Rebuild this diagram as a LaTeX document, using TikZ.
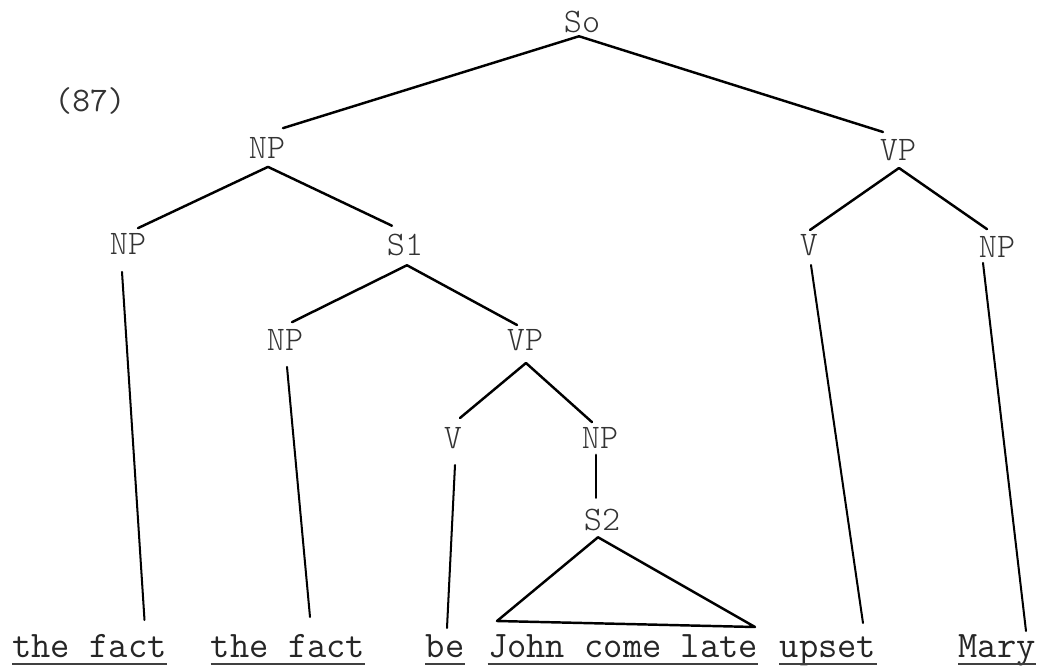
\documentclass[tikz,border=0pt]{standalone}
\usetikzlibrary{positioning}
\tikzset{
  cat/.style={inner sep=0pt,font=\ttfamily\fontseries{l}\fontsize{19.6}{20}\selectfont,text=black!80},
  word/.style={inner sep=0pt,anchor=base,font=\ttfamily\fontsize{21.3}{22}\selectfont,text=black!85},
  branch/.style={line width=1.4pt,line cap=round},
  leaf/.style={line width=1.15pt,line cap=round},
  uline/.style={line width=1pt,draw=black!75}
}
\begin{document}
\begin{tikzpicture}[x=0.02cm,y=-0.02cm]
  \useasboundingbox (0,0) rectangle (1042,666);
  % example number
  \node[cat,font=\ttfamily\fontsize{19.6}{20}\selectfont] (num) at (90,101) {(87)};
  % categories
  \node[cat] (So)  at (582,22)  {So};
  \node[cat] (NPa) at (267,148) {NP};
  \node[cat] (VPa) at (898,150) {VP};
  \node[cat] (NPb) at (128,244) {NP};
  \node[cat] (S1)  at (405,245) {S1};
  \node[cat] (Va)  at (809,245) {V};
  \node[cat] (NPc) at (997,247) {NP};
  \node[cat] (NPd) at (285,340) {NP};
  \node[cat] (VPb) at (525,340) {VP};
  \node[cat] (Vb)  at (453,438) {V};
  \node[cat] (NPe) at (600,438) {NP};
  \node[cat] (S2)  at (602,520) {S2};
  % terminals
  \node[word] (w1) at (89.5,657) {the fact};
  \node[word] (w2) at (288,657)  {the fact};
  \node[word] (w3) at (445,657)  {be};
  \node[word] (w4) at (623,657)  {John come late};
  \node[word] (w5) at (828,657)  {upset};
  \node[word] (w6) at (997,657)  {Mary};
  % branches (hand drawn, so the ends are a bit off centre)
  \foreach \p/\c/\ax/\ay/\bx/\by in {So/NPa/-3/3/16/-9, So/VPa/-3/3/-15/-7,
      NPa/NPb/1/8/10/-5, NPa/S1/1/8/-13/-8, VPa/Va/1/7/1/-4, VPa/NPc/1/7/-10/-7,
      S1/NPd/2/9/7/-7, S1/VPb/2/9/-8/-4, VPb/Vb/1/12/7/-9, VPb/NPe/1/12/-8/-5,
      NPe/S2/-4/6/-6/-11}
    \draw[branch] ([shift={(\ax,\ay)}]\p.south) -- ([shift={(\bx,\by)}]\c.north);
  % lines down to the words
  \foreach \p/\w/\ax/\ay/\bx/\by in {NPb/w1/-6/17/55/-37, NPd/w2/2/16/22/-40,
      Vb/w3/2/16/2/-29, Va/w5/2/9/35/-34, NPc/w6/-14/5/29/-26}
    \draw[leaf] ([shift={(\ax,\ay)}]\p.south) -- ([shift={(\bx,\by)}]\w.base);
  % triangle over S2
  \draw[branch,line join=round] ([shift={(-4,6)}]S2.south) -- ([shift={(-126,-36)}]w4.base)
    -- ([shift={(132,-30)}]w4.base) -- cycle;
  % underlining
  \foreach \w in {w1,w2,w3,w4,w5,w6}
    \draw[uline] ([shift={(0,7)}]\w.base west) -- ([shift={(0,7)}]\w.base east);
\end{tikzpicture}
\end{document}
